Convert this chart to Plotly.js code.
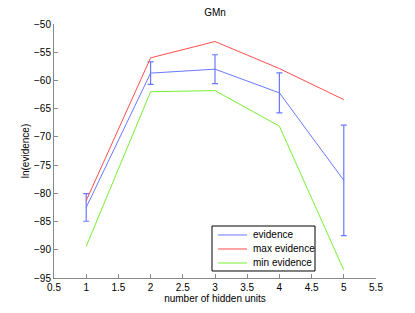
<!DOCTYPE html>
<html><head><meta charset="utf-8">
<script src="https://cdn.plot.ly/plotly-3.0.1.min.js"></script>
<style>html,body{margin:0;padding:0;background:#fff}#chart{width:415px;height:313px}</style>
</head><body><div id="chart"></div>
<script>
const hiddenUnits = [1, 2, 3, 4, 5];
const evidence = [-82.5, -58.7, -58.0, -62.2, -77.7];
const evidenceErr = [2.45, 2.0, 2.55, 3.55, 9.8];
const maxEvidence = [-81.3, -56.0, -53.1, -57.9, -63.4];
const minEvidence = [-89.4, -62.0, -61.8, -68.1, -93.6];
const seriesNames = ['evidence', 'max evidence', 'min evidence'];
const seriesColors = ['#6a78ff', '#ff4d4d', '#77ee33'];

const font = {family: 'Liberation Sans, Arial, sans-serif', size: 10, color: '#000'};
const traces = [
  {x: hiddenUnits, y: evidence, name: seriesNames[0], mode: 'lines', type: 'scatter',
   line: {color: seriesColors[0], width: 1},
   error_y: {type: 'data', array: evidenceErr, visible: true, color: seriesColors[0], thickness: 1.2, width: 3}},
  {x: hiddenUnits, y: maxEvidence, name: seriesNames[1], mode: 'lines', type: 'scatter',
   line: {color: seriesColors[1], width: 1}},
  {x: hiddenUnits, y: minEvidence, name: seriesNames[2], mode: 'lines', type: 'scatter',
   line: {color: seriesColors[2], width: 1}}
];
const axisCommon = {showgrid: false, zeroline: false, showline: true, linecolor: '#888', linewidth: 1,
  ticks: 'inside', ticklen: 4, tickcolor: '#888', tickfont: font, mirror: false};

// Legend drawn as a boxed key in paper coordinates (MATLAB style)
const legX0 = 0.4907, legX1 = 0.8106, legY0 = 0.0276, legY1 = 0.2047;
const keyX0 = 0.5093, keyX1 = 0.5994, keyTextX = 0.6118;
const keyYs = [0.1693, 0.1142, 0.0591];
const shapes = [{type: 'rect', xref: 'paper', yref: 'paper', x0: legX0, x1: legX1, y0: legY0, y1: legY1,
  line: {color: '#000', width: 1}, fillcolor: '#fff', layer: 'above'}];
const annotations = [];
seriesNames.forEach((n, i) => {
  shapes.push({type: 'line', xref: 'paper', yref: 'paper', x0: keyX0, x1: keyX1, y0: keyYs[i], y1: keyYs[i],
    line: {color: seriesColors[i], width: 1}, layer: 'above'});
  annotations.push({xref: 'paper', yref: 'paper', x: keyTextX, y: keyYs[i], xanchor: 'left', yanchor: 'middle',
    text: n, showarrow: false, font: font});
});

const layout = {
  width: 415, height: 313,
  margin: {l: 54, r: 39, t: 24, b: 35},
  paper_bgcolor: '#fff', plot_bgcolor: '#fff',
  font: font,
  title: {text: 'GMn', font: {family: font.family, size: 10, color: '#000'}, x: 0.518, xanchor: 'center', y: 0.96, yanchor: 'middle'},
  xaxis: Object.assign({}, axisCommon, {range: [0.5, 5.5], tickvals: [0.5,1,1.5,2,2.5,3,3.5,4,4.5,5,5.5],
    ticktext: ['0.5','1','1.5','2','2.5','3','3.5','4','4.5','5','5.5'],
    title: {text: 'number of hidden units', font: font, standoff: 0}}),
  yaxis: Object.assign({}, axisCommon, {range: [-95, -50], tickvals: [-95,-90,-85,-80,-75,-70,-65,-60,-55,-50],
    title: {text: 'ln(evidence)', font: font, standoff: 2}}),
  showlegend: false,
  shapes: shapes,
  annotations: annotations
};
Plotly.newPlot('chart', traces, layout, {staticPlot: true, displayModeBar: false});
</script></body></html>
